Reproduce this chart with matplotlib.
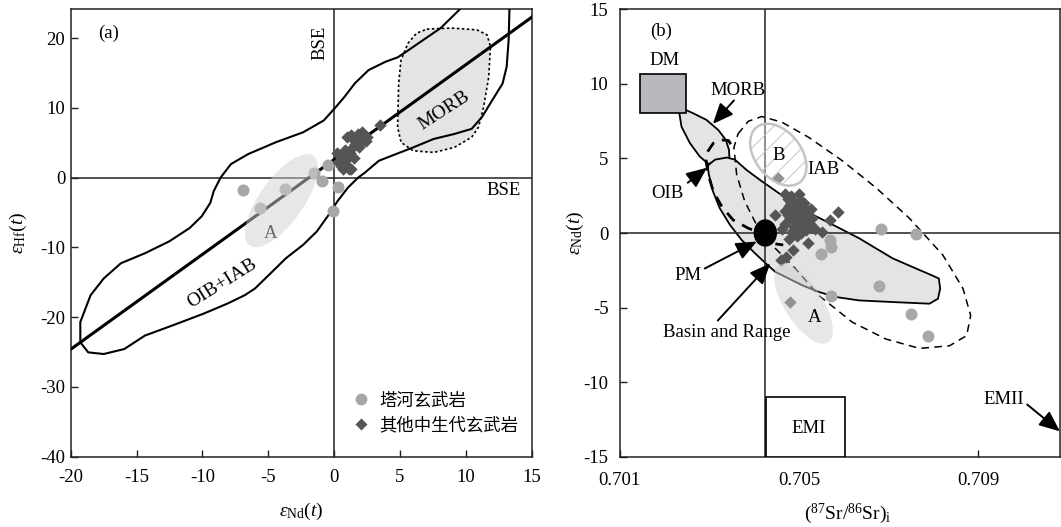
import numpy as np
import matplotlib
matplotlib.use("Agg")
import matplotlib.pyplot as plt
from matplotlib.patches import Ellipse, Polygon, Rectangle
from matplotlib.transforms import ScaledTranslation
from matplotlib.lines import Line2D

plt.rcParams['font.family'] = ['Liberation Serif', 'DejaVu Serif']
plt.rcParams['mathtext.fontset'] = 'custom'
plt.rcParams['mathtext.rm'] = 'Liberation Serif'
plt.rcParams['mathtext.it'] = 'Liberation Serif:italic'
plt.rcParams['axes.unicode_minus'] = False
plt.rcParams['hatch.linewidth'] = 0.7

DPI = 100
FS = 13.5

# ---------------- panel (a): eNd(t) vs eHf(t) ----------------
tahe_nd = [-6.9, -5.6, -3.7, -1.5, -0.9, -0.5, 0.3, -0.1]
tahe_hf = [-1.8, -4.4, -1.6, 0.7, -0.5, 1.8, -1.4, -4.8]

other_nd = [0.2, 0.3, 0.7, 1.0, 1.3, 1.5, 0.9, 1.2, 0.6, 1.6, 1.9, 1.0, 1.3, 1.7, 2.1, 2.4,
            2.0, 2.5, 1.5, 3.5, 0.5, 1.1, 0.8, 1.4, 2.2, 1.8]
other_hf = [3.5, 2.3, 1.3, 1.7, 1.3, 2.8, 2.5, 3.6, 2.9, 4.9, 4.4, 5.8, 6.1, 5.6, 6.6, 5.2,
            5.0, 5.9, 5.4, 7.6, 1.7, 1.2, 3.9, 4.4, 5.8, 6.3]

# terrestrial array
array_slope = 1.36
array_icpt = 2.6

oib_iab_nd = [-19.27, -19.27, -18.49, -17.49, -16.19, -14.36, -12.53, -10.97, -10.05, -9.40, -9.14,
              -8.62, -7.84, -6.53, -4.44, -2.35, -0.79, 0.13, 0.78, 1.56, 2.61, 3.91, 4.82, 5.48,
              6.78, 8.09, 9.52, 10.17, 13.31, 13.31, 13.25, 13.10, 12.79, 12.0, 11.22, 10.44, 9.13,
              7.56, 6.0, 4.69, 3.39, 2.34, 1.82, 1.04, 0.26, -0.40, -1.31, -2.35, -3.66, -4.96,
              -6.01, -6.79, -8.10, -9.92, -12.27, -14.36, -15.93, -17.49, -18.67]
oib_iab_hf = [-23.6, -20.7, -16.85, -14.44, -12.27, -10.83, -9.14, -7.22, -5.53, -3.60, -1.92,
              0.01, 1.94, 3.38, 5.07, 6.51, 8.20, 10.13, 11.57, 13.50, 15.42, 16.63, 17.25, 18.07,
              19.76, 21.45, 24.1, 25.5, 25.5, 24.1, 19.76, 15.91, 13.50, 11.09, 8.68, 7.0, 6.27,
              5.55, 4.34, 3.38, 2.42, 0.73, 0.01, -1.44, -3.36, -5.29, -7.70, -9.62, -11.55, -13.96,
              -15.89, -16.85, -18.05, -19.50, -21.18, -22.63, -24.56, -25.28, -25.04]

morb_a_nd = [7.04, 8.87, 10.83, 11.61, 11.87, 11.74, 11.35, 10.96, 10.44, 9.13, 7.56, 6.0, 5.08,
             4.82, 4.90, 5.08, 5.61, 6.26]
morb_a_hf = [21.3, 21.45, 21.2, 20.48, 18.8, 14.46, 10.13, 7.24, 5.79, 4.34, 3.62, 3.86, 5.07,
             7.24, 13.5, 16.87, 19.28, 20.72]

field_a_centre = (-4.0, -3.3)

# ---------------- panel (b): (87Sr/86Sr)i vs eNd(t) ----------------
tahe_sr = [0.70683, 0.70760, 0.70569, 0.70571, 0.70549, 0.70678, 0.70571, 0.70750, 0.70788]
tahe_ndb = [0.30, -0.06, -0.44, -0.95, -1.40, -3.57, -4.20, -5.46, -6.88]

other_sr = [0.70446, 0.70588, 0.70569, 0.70551, 0.70521, 0.70487, 0.70472, 0.70461, 0.70481,
            0.70454, 0.70468, 0.70475, 0.70482, 0.70490, 0.70478, 0.70470, 0.70485, 0.70495,
            0.70503, 0.70510, 0.70500, 0.70490, 0.70480, 0.70470, 0.70488, 0.70498, 0.70508,
            0.70518, 0.70525, 0.70515, 0.70505, 0.70495, 0.70485, 0.70478, 0.70500, 0.70512,
            0.70520, 0.70530, 0.70475, 0.70492, 0.70505, 0.70515, 0.70527, 0.70483, 0.70497,
            0.70510, 0.70462, 0.70535]
other_ndb = [1.21, 1.43, 0.88, 0.09, -0.68, -1.13, -1.58, -1.80, -4.63,
             3.67, 2.6, 2.3, 2.5, 2.0, 1.8, 1.5, 1.4, 1.7,
             2.2, 1.6, 1.1, 0.9, 1.0, 0.6, 0.4, 0.5, 0.8,
             1.2, 0.6, 0.2, 0.0, -0.2, 0.1, -0.4, 2.6, 2.0,
             1.5, 1.0, 1.2, 1.3, 1.9, 0.9, 1.6, 2.0, 0.7,
             0.4, 0.3, 0.3]

bse_sr = 0.70425
pm_sr, pm_nd = 0.70425, 0.0

morb_b_sr = [0.70231, 0.70264, 0.70294, 0.70320, 0.70337, 0.70344, 0.70345, 0.70320, 0.70298,
             0.70279, 0.70257, 0.70238]
morb_b_nd = [8.47, 8.03, 7.58, 6.91, 6.24, 5.57, 5.01, 4.90, 4.63, 5.12, 6.02, 7.13]

oib_b_sr = [0.70298, 0.70313, 0.70339, 0.70357, 0.70383, 0.70413, 0.70450, 0.70487, 0.70524,
            0.70562, 0.70634, 0.70709, 0.70761, 0.70799, 0.70812, 0.70815, 0.70810, 0.70791,
            0.70709, 0.70634, 0.70582, 0.70544, 0.70507, 0.70477, 0.70447, 0.70426, 0.70402,
            0.70372, 0.70346, 0.70323, 0.70308, 0.70299, 0.70297]
oib_b_nd = [4.56, 4.92, 5.06, 4.92, 4.23, 3.56, 2.78, 2.0, 1.33, 0.76, -0.35, -1.70, -2.38,
            -2.87, -3.05, -3.73, -4.41, -4.74, -4.63, -4.52, -4.29, -3.95, -3.50, -3.05, -2.60,
            -2.04, -1.36, -0.46, 0.55, 1.68, 2.81, 3.93, 4.38]

iab_sr = [0.70364, 0.70387, 0.70417, 0.70462, 0.70522, 0.70597, 0.70672, 0.70746, 0.70821,
          0.70866, 0.70883, 0.70874, 0.70836, 0.70769, 0.70694, 0.70619, 0.70544, 0.70492,
          0.70447, 0.70409, 0.70379, 0.70361, 0.70355]
iab_nd = [6.64, 7.49, 7.81, 7.43, 6.41, 4.84, 3.03, 1.00, -1.48, -3.73, -5.53, -6.88, -7.56,
          -7.74, -7.11, -5.98, -4.18, -2.38, -1.02, 0.33, 2.13, 3.93, 5.74]

br_sr = [0.70348, 0.70343, 0.70325, 0.70309, 0.70294, 0.70293, 0.70298, 0.70309, 0.70328,
         0.70353, 0.70387, 0.70406, 0.70440, 0.70465]
br_nd = [5.95, 6.20, 6.25, 6.02, 5.35, 4.79, 3.89, 2.78, 1.77, 0.88, 0.32, 0.09, -0.70, -0.80]

dm_box = (0.70145, 8.08, 0.00102, 2.57)
emi_box = (0.70426, -15.0, 0.00176, 4.0)
field_b_centre = (0.70454, 5.25)
field_a2_centre = (0.70510, -4.74)


def px_ellipse(ax, cx, cy, a_px, b_px, ang, **kw):
    tr = ax.figure.dpi_scale_trans + ScaledTranslation(cx, cy, ax.transData)
    e = Ellipse((0, 0), 2 * a_px / DPI, 2 * b_px / DPI, angle=ang, transform=tr, **kw)
    ax.add_patch(e)
    return e


def style_axes(ax):
    for s in ax.spines.values():
        s.set_color('#222222')
        s.set_linewidth(1.1)
    ax.tick_params(direction='in', length=5, width=1.0, labelsize=FS, color='#222222')


fig = plt.figure(figsize=(10.61, 5.27), dpi=DPI)
W, H = 1061.0, 527.0
ax1 = fig.add_axes([70.7 / W, (H - 456.7) / H, 461.0 / W, 447.4 / H])
ax2 = fig.add_axes([619.6 / W, (H - 456.7) / H, 440.7 / W, 447.4 / H])

# ---- panel a ----
ax1.set_xlim(-20, 15)
ax1.set_ylim(-40, 24.14)
ax1.add_patch(Polygon(np.column_stack([morb_a_nd, morb_a_hf]), closed=True, facecolor='#e4e4e4',
                      edgecolor='k', lw=1.2, linestyle=(0, (1.5, 1.5)), zorder=1))
ax1.axvline(0, color='#222222', lw=1.1, zorder=2)
ax1.axhline(0, color='#222222', lw=1.1, zorder=2)
ax1.add_patch(Polygon(np.column_stack([oib_iab_nd, oib_iab_hf]), closed=True, facecolor='none',
                      edgecolor='k', lw=1.5, zorder=3))
xx = np.array([-20, 15])
ax1.plot(xx, array_slope * xx + array_icpt, color='k', lw=2.2, zorder=3)
ax1.scatter(tahe_nd, tahe_hf, s=75, marker='o', color='#a6a6a6', zorder=4, linewidths=0)
ax1.scatter(other_nd, other_hf, s=40, marker='D', color='#555555', zorder=5, linewidths=0)
px_ellipse(ax1, field_a_centre[0], field_a_centre[1], 55, 22, 54.5, facecolor='#d0d0d0',
           edgecolor='none', alpha=0.5, zorder=6)

ax1.text(-17.1, 20.7, '(a)', fontsize=FS, ha='center', va='center')
ax1.text(-1.05, 19.3, 'BSE', fontsize=FS, ha='center', va='center', rotation=90)
ax1.text(12.9, -1.9, 'BSE', fontsize=FS, ha='center', va='center')
ax1.text(8.35, 9.6, 'MORB', fontsize=FS + 0.5, ha='center', va='center', rotation=33)
ax1.text(-4.8, -8.0, 'A', fontsize=FS, ha='center', va='center')
ax1.text(-8.5, -15.1, 'OIB+IAB', fontsize=FS + 0.5, ha='center', va='center', rotation=32)

ax1.set_xticks([-20, -15, -10, -5, 0, 5, 10, 15])
ax1.set_yticks([-40, -30, -20, -10, 0, 10, 20])
style_axes(ax1)
ax1.tick_params(axis='x', pad=9)
ax1.tick_params(axis='y', pad=4)
ax1.set_xlabel(r'$\varepsilon_{\rm Nd}(t)$', fontsize=14, va='center')
ax1.set_ylabel(r'$\varepsilon_{\rm Hf}(t)$', fontsize=14, va='center')
ax1.xaxis.set_label_coords(0.5, -0.123)
ax1.yaxis.set_label_coords(-0.114, 0.5)

handles = [Line2D([], [], ls='none', marker='o', ms=8.5, color='#a6a6a6', mec='none'),
           Line2D([], [], ls='none', marker='D', ms=6.5, color='#555555', mec='none')]
ax1.legend(handles, ['塔河玄武岩', '其他中生代玄武岩'], loc='lower left',
           bbox_to_anchor=(0.61, 0.05), frameon=False, handlelength=1.0, handletextpad=0.6,
           labelspacing=0.4, borderpad=0, borderaxespad=0,
           prop={'family': ['Noto Sans CJK SC', 'DejaVu Sans'], 'size': 12.5})

# ---- panel b ----
ax2.set_xlim(0.701, 0.710829)
ax2.set_ylim(-15, 15)
ax2.add_patch(Polygon(np.column_stack([morb_b_sr, morb_b_nd]), closed=True, facecolor='#e4e4e6',
                      edgecolor='k', lw=1.3, zorder=1))
ax2.add_patch(Polygon(np.column_stack([oib_b_sr, oib_b_nd]), closed=True, facecolor='#e4e4e6',
                      edgecolor='k', lw=1.3, zorder=1.1))
ax2.axvline(bse_sr, color='#222222', lw=1.1, zorder=2)
ax2.axhline(0, color='#222222', lw=1.1, zorder=2)
ax2.add_patch(Polygon(np.column_stack([iab_sr, iab_nd]), closed=True, facecolor='none',
                      edgecolor='k', lw=1.1, linestyle=(0, (5, 3.5)), zorder=2.5))
ax2.plot(br_sr, br_nd, color='k', lw=2.0, linestyle=(0, (4, 3)), zorder=2.5)
ax2.add_patch(Rectangle(dm_box[:2], dm_box[2], dm_box[3], facecolor='#b9b9bd', edgecolor='k',
                        lw=1.2, zorder=3))
ax2.add_patch(Rectangle(emi_box[:2], emi_box[2], emi_box[3], facecolor='white', edgecolor='k',
                        lw=1.2, zorder=3))
ax2.scatter(tahe_sr, tahe_ndb, s=75, marker='o', color='#a8a8a8', zorder=4, linewidths=0)
ax2.scatter(other_sr, other_ndb, s=40, marker='D', color='#555555', zorder=5, linewidths=0)
px_ellipse(ax2, field_b_centre[0], field_b_centre[1], 35, 23, -52, facecolor=(1, 1, 1, 0.35),
           edgecolor='#c4c4c4', lw=1.8, hatch='//', zorder=6)
px_ellipse(ax2, field_a2_centre[0], field_a2_centre[1], 46, 19, -57.5, facecolor='#d0d0d0',
           edgecolor='none', alpha=0.5, zorder=6)
px_ellipse(ax2, pm_sr, pm_nd, 11, 13, 0, facecolor='black', edgecolor='black', zorder=7)

arrow = dict(arrowstyle='-|>,head_length=0.7,head_width=0.3', color='k', lw=1.4,
             mutation_scale=18, shrinkA=0, shrinkB=0)
ax2.annotate('', xy=(0.70308, 7.31), xytext=(0.70355, 8.89), arrowprops=arrow, zorder=8)
ax2.annotate('', xy=(0.70295, 4.38), xytext=(0.70252, 3.37), arrowprops=arrow, zorder=8)
ax2.annotate('', xy=(0.70406, -0.57), xytext=(0.70290, -2.38), arrowprops=arrow, zorder=8)
ax2.annotate('', xy=(0.70436, -2.04), xytext=(0.70319, -5.87), arrowprops=arrow, zorder=8)
ax2.annotate('', xy=(0.71082, -13.3), xytext=(0.71009, -11.5), arrowprops=arrow, zorder=8,
             annotation_clip=False)

ax2.text(0.70192, 13.5, '(b)', fontsize=FS, ha='center', va='center')
ax2.text(0.70200, 11.6, 'DM', fontsize=FS, ha='center', va='center')
ax2.text(0.70364, 9.57, 'MORB', fontsize=FS, ha='center', va='center')
ax2.text(0.70207, 2.65, 'OIB', fontsize=FS, ha='center', va='center')
ax2.text(0.70555, 4.27, 'IAB', fontsize=FS, ha='center', va='center', zorder=8)
ax2.text(0.70454, 5.17, 'B', fontsize=FS, ha='center', va='center', zorder=8)
ax2.text(0.70535, -5.64, 'A', fontsize=FS, ha='center', va='center', zorder=8)
ax2.text(0.70252, -2.87, 'PM', fontsize=FS, ha='center', va='center')
ax2.text(0.70338, -6.66, 'Basin and Range', fontsize=FS, ha='center', va='center')
ax2.text(0.70522, -13.08, 'EMI', fontsize=FS, ha='center', va='center')
ax2.text(0.70956, -11.17, 'EMII', fontsize=FS, ha='center', va='center')

ax2.set_xticks([0.701, 0.705, 0.709])
ax2.set_xticklabels(['0.701', '0.705', '0.709'])
ax2.set_yticks([-15, -10, -5, 0, 5, 10, 15])
style_axes(ax2)
ax2.tick_params(axis='x', pad=11)
ax2.tick_params(axis='y', pad=8)
ax2.set_xlabel(r'$({}^{87}{\rm Sr}/{}^{86}{\rm Sr})_{\rm i}$', fontsize=14, va='center')
ax2.set_ylabel(r'$\varepsilon_{\rm Nd}(t)$', fontsize=14, va='center')
ax2.xaxis.set_label_coords(0.517, -0.128)
ax2.yaxis.set_label_coords(-0.100, 0.5)

fig.savefig('out.png', dpi=DPI, facecolor='white')
